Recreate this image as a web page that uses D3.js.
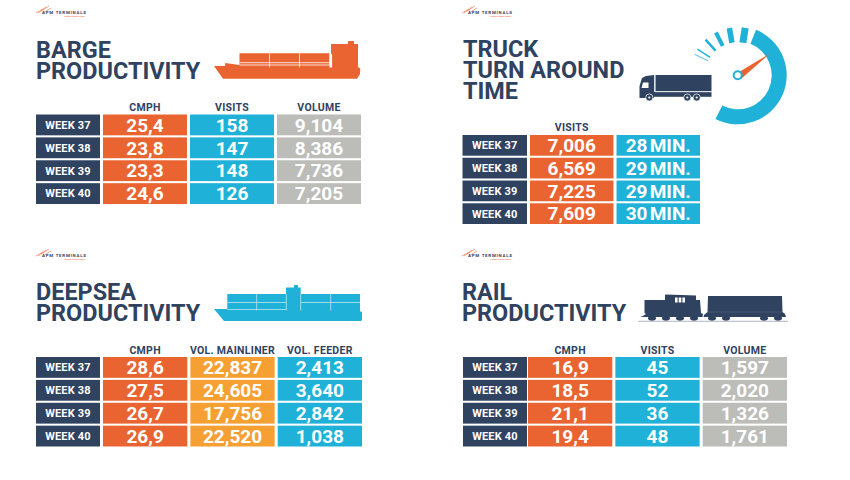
<!DOCTYPE html>
<html><head><meta charset="utf-8">
<script src="https://cdn.jsdelivr.net/npm/d3@7"></script>
<style>
html,body{margin:0;background:#fff}
svg{display:block}
text{font-family:Roboto,sans-serif;font-weight:700}
</style></head><body>
<svg id="c" width="850" height="480"></svg>
<script>
const weeks = ["WEEK 37","WEEK 38","WEEK 39","WEEK 40"];
const bargeCmph = [25.4,23.8,23.3,24.6];
const bargeVisits = [158,147,148,126];
const bargeVolume = [9104,8386,7736,7205];
const truckVisits = [7006,6569,7225,7609];
const truckMinutes = [28,29,29,30];
const deepseaCmph = [28.6,27.5,26.7,26.9];
const deepseaMainliner = [22837,24605,17756,22520];
const deepseaFeeder = [2413,3640,2842,1038];
const railCmph = [16.9,18.5,21.1,19.4];
const railVisits = [45,52,36,48];
const railVolume = [1597,2020,1326,1761];

const NAVY="#2f425f",ORANGE="#e96431",CYAN="#1fb1d7",GREY="#bcbcb9",AMBER="#f6a034";
const comma1=v=>v.toFixed(1).replace(".",",");
const thousands=d3.format(",");
const minutes=v=>v+" MIN.";
const svg=d3.select("#c");

function logo(x,y){
  const g=svg.append("g").attr("transform",`translate(${x},${y})`);
  const p=d3.path();
  [[0,7,7,3],[2,7,10,1],[5,5,13,0],[7,7,15,2]].forEach(a=>{p.moveTo(a[0],a[1]);p.lineTo(a[2],a[3]);});
  g.append("path").attr("d",p).attr("stroke","#ef7d55").attr("stroke-width",.7).attr("fill","none");
  g.append("text").text("APM TERMINALS").attr("x",6).attr("y",7.6).attr("font-size",4.4).attr("fill",NAVY).attr("textLength",44);
  g.append("text").text("Lifting Global Trade").attr("x",28).attr("y",11.2).attr("font-size",2.4).attr("fill","#ef7d55").attr("textLength",21);
}

function title(lines,x,baselines){
  const t=svg.append("text").attr("font-size",24.8).attr("fill",NAVY)
    .attr("transform",`translate(${x},0) scale(0.945,1)`);
  t.selectAll("tspan").data(lines).join("tspan")
    .text(d=>d).attr("x",0).attr("y",(d,i)=>baselines[i]);
}

function table(cfg){
  const y=d3.scaleBand().domain(weeks).range(cfg.yRange).paddingInner(0.09);
  const x=d3.scaleBand().domain(cfg.cols.map(c=>c.name)).range(cfg.xRange).paddingInner(0.035);
  const g=svg.append("g");
  const lab=g.append("g").selectAll("g").data(weeks).join("g");
  lab.append("rect").attr("x",cfg.labelX[0]).attr("width",cfg.labelX[1]-cfg.labelX[0])
    .attr("y",d=>y(d)).attr("height",y.bandwidth()).attr("fill",NAVY);
  lab.append("text").text(d=>d).attr("x",(cfg.labelX[0]+cfg.labelX[1])/2)
    .attr("y",d=>y(d)+y.bandwidth()/2+3.9).attr("text-anchor","middle").attr("font-size",11).attr("letter-spacing",.2).attr("fill","#fff");
  cfg.cols.forEach(c=>{
    if(c.header!==false) g.append("text").text(c.name).attr("x",x(c.name)+x.bandwidth()/2).attr("y",cfg.headerY)
      .attr("text-anchor","middle").attr("font-size",10.5).attr("letter-spacing",.3).attr("fill",NAVY);
    const rows=g.append("g").selectAll("g").data(c.values.map((v,i)=>({v,w:weeks[i]}))).join("g");
    rows.append("rect").attr("x",x(c.name)).attr("width",x.bandwidth())
      .attr("y",d=>y(d.w)).attr("height",y.bandwidth()).attr("fill",c.color);
    rows.append("text").text(d=>c.fmt(d.v)).attr("x",x(c.name)+x.bandwidth()/2)
      .attr("y",d=>y(d.w)+y.bandwidth()/2+6.8).attr("text-anchor","middle")
      .attr("font-size",19).attr("word-spacing",-2.5).attr("fill","#fff");
  });
}

/* panels */
logo(36,6); logo(462,6); logo(36,249); logo(462,249);
title(["BARGE","PRODUCTIVITY"],36,[58,79]);
title(["TRUCK","TURN AROUND","TIME"],463,[57,78,99]);
title(["DEEPSEA","PRODUCTIVITY"],36,[300,321.5]);
title(["RAIL","PRODUCTIVITY"],462,[300,321.5]);

table({headerY:111,labelX:[36,100],xRange:[103,361],yRange:[114.5,204],cols:[
  {name:"CMPH",values:bargeCmph,color:ORANGE,fmt:comma1},
  {name:"VISITS",values:bargeVisits,color:CYAN,fmt:thousands},
  {name:"VOLUME",values:bargeVolume,color:GREY,fmt:thousands}]});
table({headerY:131,labelX:[462.5,527],xRange:[530,700],yRange:[135,224],cols:[
  {name:"VISITS",values:truckVisits,color:ORANGE,fmt:thousands},
  {name:"MINUTES",header:false,values:truckMinutes,color:CYAN,fmt:minutes}]});
table({headerY:354,labelX:[36,100],xRange:[103,362],yRange:[357,446.5],cols:[
  {name:"CMPH",values:deepseaCmph,color:ORANGE,fmt:comma1},
  {name:"VOL. MAINLINER",values:deepseaMainliner,color:AMBER,fmt:thousands},
  {name:"VOL. FEEDER",values:deepseaFeeder,color:CYAN,fmt:thousands}]});
table({headerY:354,labelX:[463,527],xRange:[528,787],yRange:[357,446.5],cols:[
  {name:"CMPH",values:railCmph,color:ORANGE,fmt:comma1},
  {name:"VISITS",values:railVisits,color:CYAN,fmt:thousands},
  {name:"VOLUME",values:railVolume,color:GREY,fmt:thousands}]});

/* icons */
const ic=svg.append("g");
// barge
ic.append("path").attr("fill",ORANGE).attr("d","M214 66L225 66L225.3 63L239.5 65L239.5 53.3L329.5 53.3L329.5 65L331 65L331 44L348 44L348 41L354 41L354 44L358 44L358 67L360.3 68.5L360 74L357 78.7L223 78.7Z");
ic.append("path").attr("stroke","#fff").attr("stroke-width",.8).attr("fill","none")
  .attr("d","M239.5 62.7H329.5M269.5 53.3V67.5M299.5 53.3V67.5M239.5 65H331");
ic.append("rect").attr("x",329.5).attr("y",54).attr("width",2.6).attr("height",13.5).attr("fill","#fff");
// deepsea
ic.append("path").attr("fill",CYAN).attr("d","M214 309L227.3 309L227.3 294L286 294L286 287.5L294 287.5L294 285L298 285L298 287.5L300.7 287.5L300.7 294L360 294L360 311.3L362 312L362 320L361 321L224 321Z");
ic.append("path").attr("stroke","#bfe6f2").attr("stroke-width",.8).attr("fill","none")
  .attr("d","M227.3 302.5H286M301 302.5H360M256.7 294V310.5M330.7 294V310.5M286.3 294V310.5M300.7 294V310.5M227.3 309.5H286");
// rail
ic.append("path").attr("fill",NAVY).attr("d","M643 316L646 314L644.5 313L644.5 300L665 300L665 295L666 294.5L696 295.5L696 300L700 300L701 313L703 314L702.5 317L640 317Z");
ic.selectAll(".win").data([0,1,2]).join("rect").attr("x",d=>675+d*3.7).attr("y",297.5).attr("width",2.6).attr("height",5).attr("fill","#fff");
ic.append("path").attr("fill",NAVY).attr("d","M708 296H782L782.5 312L785 314L786 317L703.5 317L704 315L707.5 312Z");
ic.append("path").attr("stroke","#54657f").attr("stroke-width",.6).attr("d","M708 312H782");
[712,726,764,778].forEach(x=>ic.append("ellipse").attr("cx",x).attr("cy",318.3).attr("rx",4).attr("ry",2.4).attr("fill",NAVY));
[652,666,680,694].forEach(x=>ic.append("ellipse").attr("cx",x).attr("cy",318.3).attr("rx",4).attr("ry",2.4).attr("fill",NAVY));
ic.append("rect").attr("x",638).attr("y",320.8).attr("width",150).attr("height",.9).attr("fill","#a4adbb");
// truck
ic.append("rect").attr("x",655.5).attr("y",75).attr("width",56).attr("height",16).attr("fill",NAVY);
ic.append("path").attr("fill",NAVY).attr("d","M639.5 98V86L642 78L646 76L654 75L654 98Z");
ic.append("rect").attr("x",654).attr("y",91.8).attr("width",57.5).attr("height",5).attr("fill",NAVY);
ic.append("rect").attr("x",654.4).attr("y",75).attr("width",.8).attr("height",17).attr("fill","#c4ccd6");
ic.append("rect").attr("x",655).attr("y",91.4).attr("width",57).attr("height",.8).attr("fill","#dfe3e8");
ic.append("path").attr("fill","#fff").attr("d","M641.5 88L643 82.5L648.5 82.5L648.5 88Z");
ic.selectAll(".wh").data([649.3,687.3,696.7]).join("circle").attr("cx",d=>d).attr("cy",97.5).attr("r",3.6).attr("fill",NAVY).attr("stroke","#fff").attr("stroke-width",.7);
ic.selectAll(".wc").data([649.3,687.3,696.7]).join("circle").attr("cx",d=>d).attr("cy",97.5).attr("r",1.1).attr("fill","#fff");
// gauge
const rad=d=>d*Math.PI/180;
const gauge=ic.append("g").attr("transform","translate(737.7,75.3)");
gauge.append("path").attr("fill",CYAN).attr("d",d3.arc()({innerRadius:34,outerRadius:49,startAngle:rad(22),endAngle:rad(207)}));
[[9,7],[-10,5.5],[-27,4],[-42,2.5],[-57,1.4],[-64,.8]].forEach(t=>{
  const a=rad(t[0]),s=Math.sin(a),c=Math.cos(a);
  gauge.append("line").attr("x1",s*33).attr("y1",-c*33).attr("x2",s*48).attr("y2",-c*48)
    .attr("stroke",CYAN).attr("stroke-width",t[1]);
});
gauge.append("path").attr("fill",ORANGE).attr("d","M1 -3L32.5 -22L3 4Z");
gauge.append("circle").attr("r",4).attr("fill","#fff").attr("stroke",CYAN).attr("stroke-width",2);
</script></body></html>
